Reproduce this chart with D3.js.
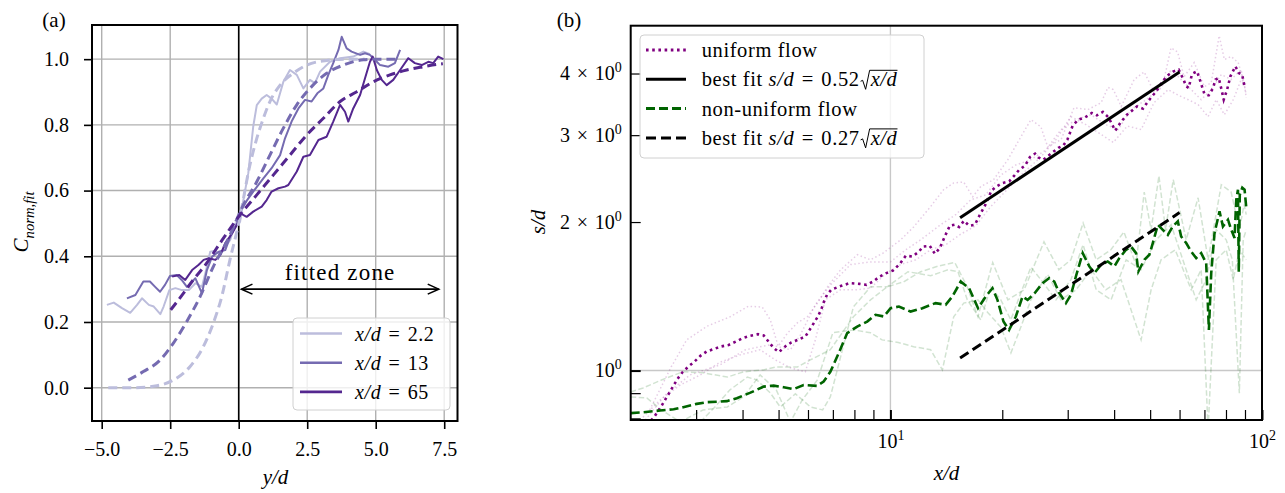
<!DOCTYPE html>
<html>
<head>
<meta charset="utf-8">
<title>spreading of the plume</title>
<script src="https://cdn.jsdelivr.net/npm/d3@7"></script>
<style>
  body { margin: 0; background: #fff; }
  text { font-family: "Liberation Serif", "Times New Roman", serif; fill: #000; }
</style>
</head>
<body>
<svg id="fig" width="1285" height="493"></svg>
<script>
// ---------- panel (a): C_norm,fit against y/d ----------
var prof22 = [[-4.81,0.252],[-4.56,0.259],[-4.26,0.242],[-3.96,0.228],[-3.71,0.252],[-3.53,0.272],[-3.28,0.252],[-3.10,0.247],[-2.86,0.224],[-2.74,0.247],[-2.53,0.297],[-2.31,0.303],[-2.07,0.297],[-1.82,0.297],[-1.58,0.318],[-1.34,0.307],[-1.16,0.368],[-1.04,0.414],[-0.85,0.417],[-0.67,0.404],[-0.49,0.429],[-0.31,0.450],[-0.12,0.500],[0.05,0.505],[0.17,0.571],[0.35,0.653],[0.53,0.795],[0.66,0.860],[0.84,0.880],[1.02,0.891],[1.20,0.880],[1.39,0.862],[1.63,0.931],[1.87,0.967],[2.12,0.952],[2.36,0.911],[2.60,0.937],[2.78,0.927],[2.97,0.962],[3.33,0.992],[3.70,1.003],[4.18,1.008],[4.55,1.023],[4.79,1.015]];
var prof13 = [[-4.08,0.272],[-3.77,0.282],[-3.48,0.323],[-3.24,0.323],[-3.05,0.307],[-2.87,0.292],[-2.69,0.313],[-2.51,0.340],[-2.26,0.343],[-2.08,0.328],[-1.89,0.307],[-1.58,0.333],[-1.34,0.287],[-1.16,0.358],[-0.97,0.399],[-0.73,0.414],[-0.49,0.419],[-0.31,0.460],[-0.06,0.500],[0.05,0.536],[0.30,0.570],[0.53,0.597],[0.90,0.637],[1.20,0.668],[1.51,0.708],[1.69,0.759],[1.93,0.810],[2.18,0.850],[2.42,0.876],[2.66,0.871],[2.87,0.896],[3.09,0.911],[3.27,0.952],[3.45,0.988],[3.64,1.028],[3.76,1.068],[3.94,1.033],[4.12,1.023],[4.43,1.013],[4.61,1.018],[4.79,1.013],[4.97,0.998],[5.16,0.982],[5.46,0.977],[5.70,0.988],[5.89,1.028]];
var prof65 = [[-2.43,0.338],[-2.17,0.343],[-1.95,0.328],[-1.70,0.358],[-1.46,0.374],[-1.28,0.389],[-1.09,0.394],[-0.85,0.389],[-0.67,0.404],[-0.49,0.440],[-0.24,0.470],[0.0,0.505],[0.05,0.531],[0.29,0.520],[0.53,0.536],[0.84,0.551],[1.02,0.571],[1.20,0.597],[1.45,0.607],[1.69,0.612],[1.81,0.617],[2.12,0.658],[2.36,0.703],[2.60,0.708],[2.91,0.754],[3.21,0.764],[3.45,0.810],[3.70,0.861],[3.88,0.840],[4.00,0.810],[4.18,0.850],[4.43,0.891],[4.61,0.942],[4.79,0.992],[4.89,1.008],[5.04,0.967],[5.22,0.937],[5.40,0.921],[5.64,0.937],[5.89,0.967],[6.19,1.003],[6.43,0.988],[6.68,0.982],[6.92,0.992],[7.10,0.988],[7.28,1.008],[7.47,1.000]];
var fit22 = [[-4.76,0.0],[-3.85,0.0],[-2.99,0.006],[-2.39,0.023],[-1.78,0.064],[-1.29,0.125],[-0.93,0.196],[-0.62,0.277],[-0.32,0.389],[0.0,0.5],[0.41,0.678],[0.66,0.759],[0.90,0.820],[1.14,0.871],[1.51,0.921],[1.99,0.957],[2.48,0.982],[3.21,0.996],[3.94,1.0],[4.60,1.0]];
var fit13 = [[-4.03,0.023],[-3.48,0.049],[-2.87,0.084],[-2.39,0.135],[-1.90,0.201],[-1.41,0.277],[-0.93,0.368],[-0.40,0.450],[0.17,0.556],[0.66,0.627],[1.14,0.708],[1.63,0.790],[2.12,0.861],[2.60,0.911],[3.21,0.957],[3.82,0.982],[4.55,0.998],[5.16,1.0],[5.89,1.0]];
var fit65 = [[-2.48,0.237],[-2.02,0.287],[-1.66,0.328],[-1.17,0.379],[-0.68,0.440],[0.05,0.526],[0.66,0.587],[1.26,0.647],[1.87,0.708],[2.48,0.769],[3.09,0.820],[3.70,0.871],[4.31,0.901],[4.91,0.931],[5.52,0.952],[6.13,0.967],[6.74,0.977],[7.23,0.984],[7.45,0.986]];
var profNames = ["2.2", "13", "65"];
var profColors = ["#bcbddc", "#756bb1", "#54278f"];
var xaTicks = [-5, -2.5, 0, 2.5, 5, 7.5];
var yaTicks = [0, 0.2, 0.4, 0.6, 0.8, 1.0];
var zoneFrom = 0.1, zoneTo = 7.3, zoneLevel = 0.3;

// ---------- panel (b): s/d against x/d ----------
var uniMean = [[2.15,0.76],[2.31,0.804],[2.43,0.852],[2.49,0.879],[2.56,0.910],[2.62,0.938],[2.69,0.968],[2.76,0.993],[2.86,1.019],[2.97,1.043],[3.08,1.071],[3.20,1.093],[3.34,1.105],[3.50,1.119],[3.67,1.127],[3.84,1.145],[4.00,1.163],[4.19,1.176],[4.40,1.185],[4.56,1.178],[4.71,1.142],[4.86,1.110],[5.01,1.090],[5.21,1.119],[5.41,1.140],[5.63,1.154],[5.90,1.172],[6.06,1.209],[6.22,1.248],[6.38,1.287],[6.52,1.332],[6.61,1.374],[6.75,1.424],[6.93,1.458],[7.30,1.481],[7.77,1.504],[8.26,1.499],[8.62,1.492],[8.98,1.515],[9.36,1.551],[9.75,1.576],[10.16,1.595],[10.59,1.644],[11.0,1.709],[11.46,1.703],[11.94,1.743],[12.24,1.784],[12.76,1.790],[13.17,1.725],[13.58,1.771],[14.01,1.870],[14.45,1.966],[14.91,1.975],[15.31,1.954],[15.77,2.012],[16.29,1.966],[16.88,1.975],[17.41,2.069],[17.96,2.158],[18.33,2.237],[18.72,2.318],[19.31,2.362],[20.05,2.400],[20.88,2.418],[21.54,2.483],[22.22,2.553],[23.02,2.601],[23.75,2.709],[24.50,2.752],[25.0,2.704],[25.79,2.675],[27.18,2.761],[28.31,2.826],[29.21,2.860],[29.94,2.938],[30.96,3.140],[32.05,3.225],[33.42,3.260],[34.84,3.328],[35.94,3.290],[37.30,3.343],[38.62,3.260],[40.27,3.063],[41.72,3.190],[43.30,3.301],[44.66,3.363],[46.07,3.431],[47.82,3.394],[49.21,3.502],[50.57,3.595],[51.94,3.680],[54.14,3.869],[56.07,3.979],[57.83,4.041],[59.66,4.073],[61.31,3.906],[62.58,3.768],[63.48,3.740],[64.83,3.993],[66.87,4.041],[68.26,3.857],[69.98,3.636],[71.88,3.613],[73.87,3.740],[74.93,3.888],[76.48,3.918],[77.62,3.740],[78.89,3.541],[80.56,3.710],[82.22,3.948],[84.81,4.137],[86.57,4.011],[88.43,3.979],[89.86,3.740]];
var uniRun1 = [[2.25,0.832],[2.57,1.017],[2.83,1.154],[3.21,1.23],[3.70,1.285],[4.15,1.35],[4.52,1.345],[4.75,1.267],[4.99,1.12],[5.28,1.19],[5.62,1.25],[5.97,1.285],[6.36,1.37],[6.78,1.48],[7.34,1.60],[8.15,1.717],[8.84,1.677],[9.55,1.73],[10.65,1.84],[11.55,1.955],[12.83,2.15],[13.9,2.326],[14.8,2.40],[15.75,2.41],[16.65,2.25],[17.5,2.36],[18.95,2.437],[20.7,2.675],[22.0,2.9],[23.88,3.225],[25.4,3.12],[26.5,2.84],[28.8,2.94],[31.2,3.41],[34.0,3.38],[36.9,3.49],[38.5,3.75],[39.8,3.71],[41.8,3.43],[45.3,3.89],[48.2,4.03],[51.3,3.66],[54.5,3.89],[56.9,4.51],[59.3,4.42],[61.7,3.94],[65.7,4.21],[70.0,3.76],[73.0,3.83],[76.7,4.77],[79.2,4.27],[82.6,4.33],[86.3,4.21],[89.5,3.83],[90.7,3.57]];
var uniRun2 = [[2.12,0.794],[2.40,0.872],[2.72,0.935],[3.08,0.98],[3.48,1.04],[3.94,1.076],[4.46,1.102],[4.90,1.051],[5.38,1.013],[5.90,0.994],[6.28,1.154],[6.68,1.391],[7.34,1.458],[8.1,1.458],[8.84,1.47],[9.7,1.57],[10.65,1.64],[11.7,1.677],[12.83,1.757],[14.1,1.80],[15.46,1.89],[16.97,1.965],[18.62,2.15],[20.6,2.326],[22.44,2.49],[25.4,2.71],[27.9,2.94],[30.6,3.27],[33.6,3.15],[36.9,3.01],[39.8,2.9],[43.4,3.13],[47.3,3.08],[51.2,3.49],[55.9,3.71],[59.3,3.62],[63.3,3.54],[67.3,3.46],[71.6,3.27],[75.3,3.54],[79.2,3.30],[83.7,3.54],[87.9,3.89],[90.7,3.80]];
var uniRun3 = [[2.19,0.794],[2.48,0.893],[2.89,0.98],[3.48,1.027],[4.07,1.102],[4.75,1.128],[5.38,1.102],[5.72,1.18],[6.28,1.36],[6.89,1.49],[7.81,1.64],[8.84,1.66],[10.0,1.66],[11.0,1.757],[12.06,1.841],[13.65,1.975],[14.99,2.07],[16.45,2.219],[18.05,2.27],[19.82,2.49],[21.75,2.61],[23.88,2.675],[26.2,2.80],[28.77,3.078],[31.6,3.225],[34.66,3.30],[38.0,3.15],[41.0,3.078],[44.43,3.379],[48.8,3.54],[53.5,3.74],[56.95,4.073],[60.6,3.888],[64.5,3.71],[68.6,3.54],[73.0,3.71],[77.7,3.98],[82.6,3.89],[87.9,4.07],[90.7,3.62]];
var nonMean = [[2.0,0.820],[2.16,0.823],[2.40,0.830],[2.61,0.835],[2.77,0.843],[3.01,0.856],[3.21,0.863],[3.45,0.865],[3.63,0.867],[3.86,0.879],[4.20,0.902],[4.56,0.928],[4.85,0.932],[5.16,0.925],[5.49,0.917],[5.84,0.935],[6.35,0.931],[6.61,0.950],[6.89,0.994],[7.26,1.085],[7.65,1.191],[8.14,1.228],[8.66,1.257],[9.12,1.297],[9.60,1.287],[10.01,1.338],[10.54,1.348],[11.33,1.317],[12.19,1.338],[13.23,1.370],[14.08,1.359],[14.68,1.413],[15.46,1.515],[16.28,1.469],[17.21,1.338],[18.05,1.413],[18.82,1.469],[19.41,1.391],[20.15,1.257],[20.86,1.209],[21.75,1.287],[22.68,1.413],[23.40,1.391],[24.37,1.431],[25.67,1.504],[26.76,1.540],[27.60,1.515],[28.47,1.436],[29.67,1.370],[30.61,1.424],[31.56,1.551],[32.92,1.730],[34.30,1.626],[35.38,1.576],[36.88,1.638],[38.44,1.664],[40.06,1.626],[41.30,1.690],[43.06,1.757],[44.42,1.784],[45.82,1.730],[46.48,1.588],[48.24,1.677],[49.76,1.717],[50.83,1.813],[52.44,1.975],[54.08,1.929],[55.80,1.884],[57.54,1.960],[59.36,2.006],[60.59,1.870],[62.52,1.813],[64.49,1.743],[66.50,1.690],[68.60,1.730],[70.76,1.652],[71.96,1.209],[73.00,1.576],[74.50,1.899],[76.86,2.102],[78.50,1.960],[80.98,2.022],[82.66,1.929],[84.36,1.856],[85.26,2.219],[86.16,2.326],[86.60,1.586],[87.14,2.272],[88.50,2.348],[89.76,2.326],[90.72,2.138]];
var nonRun1 = [[2.0,0.905],[2.16,0.922],[2.42,0.957],[2.76,0.994],[3.13,0.99],[3.64,0.97],[4.02,0.994],[4.55,1.003],[4.93,1.017],[5.62,1.017],[6.09,1.051],[6.89,1.102],[7.95,1.285],[8.84,1.391],[9.8,1.478],[10.85,1.513],[12.06,1.586],[13.5,1.63],[14.9,1.656],[16.1,1.478],[17.2,1.285],[18.85,1.656],[20.7,1.391],[22.9,1.458],[25.9,1.824],[28.4,1.601],[30.6,1.677],[33.0,1.99],[35.8,1.677],[39.2,1.757],[42.5,1.91],[45.8,1.64],[48.2,2.30],[50.3,1.929],[52.8,2.48],[55.0,1.929],[57.7,2.437],[62.5,1.841],[67.3,2.24],[71.6,1.677],[77.7,2.38],[82.6,2.30],[86.9,1.929],[89.5,2.17],[90.7,2.07]];
var nonRun2 = [[2.0,0.884],[2.21,0.88],[2.42,0.832],[2.72,0.787],[3.13,0.832],[3.64,0.844],[4.02,0.884],[4.46,0.98],[4.93,0.914],[5.38,0.787],[5.79,0.872],[6.36,0.957],[7.0,1.193],[7.95,1.209],[8.84,1.193],[9.5,1.154],[10.5,1.14],[11.55,1.118],[12.83,1.102],[13.8,1.003],[14.8,1.285],[15.75,1.37],[17.2,1.391],[18.3,1.31],[19.82,1.225],[21.1,1.086],[22.44,1.225],[23.88,1.391],[26.5,1.565],[28.77,1.391],[31.6,1.458],[34.66,1.601],[38.0,1.458],[41.75,1.528],[47.27,1.154],[50.3,1.458],[53.5,1.677],[58.4,1.757],[64.5,1.458],[68.6,1.601],[71.6,0.76],[75.3,1.677],[80.1,1.757],[83.7,1.528],[86.9,1.757],[90.7,1.677]];
var nonRun3 = [[3.08,0.787],[3.37,0.844],[3.70,0.914],[4.12,0.97],[4.37,0.957],[4.75,0.901],[5.05,0.844],[5.55,0.897],[6.09,0.844],[6.57,0.832],[6.89,0.884],[7.95,1.346],[8.84,1.478],[9.8,1.478],[11.15,1.586],[12.83,1.557],[14.3,1.601],[15.2,1.586],[16.1,1.391],[17.5,1.267],[18.62,1.478],[19.82,1.391],[21.09,1.267],[22.44,1.437],[23.88,1.62],[25.41,1.528],[27.9,1.391],[30.6,1.528],[33.0,1.80],[35.8,1.458],[39.24,1.391],[43.1,1.677],[47.27,1.601],[51.9,1.841],[56.95,1.975],[62.5,1.601],[66.5,1.391],[70.8,1.528],[75.3,1.929],[80.1,1.841],[83.2,1.677],[86.9,0.90],[89.0,1.841],[90.7,1.929]];
var fitUni = [[15.4, 2.04], [60, 4.03]];
var fitNon = [[15.4, 1.06], [60, 2.09]];
var xbTicks = [3, 4, 5, 6, 7, 8, 9, 10, 20, 30, 40, 50, 60, 70, 80, 90, 100];
var xbMajor = [10, 100];
var ybTicks = [0.8, 0.9, 1, 2, 3, 4];
var ybMajor = [1];
var ybLabelled = [1, 2, 3, 4];

var fig = d3.select("#fig");
var FONT = "Liberation Serif, Times New Roman, serif";
var SP = "\u2004";  // a third of an em, like the spaces round = and x in TeX math
fig.append("rect").attr("width", 1285).attr("height", 493).attr("fill", "#fff");

// write text made of plain / italic / sub / sup parts
function mtext(sel, parts) {
  var shift = 0;
  parts.forEach(function(p) {
    var st = p[1] || "";
    var ts = sel.append("tspan").text(p[0]);
    if (st.indexOf("it") >= 0) ts.attr("font-style", "italic");
    var want = st.indexOf("sub") >= 0 ? 6 : (st.indexOf("sup") >= 0 ? -8 : 0);
    if (want != shift) { ts.attr("dy", want - shift); shift = want; }
    if (want != 0) ts.attr("font-size", "0.7em");
  });
  return sel;
}

// =============== panel (a) ===============
var A = {left: 92, right: 457.5, top: 25, bottom: 421};
var xa = d3.scaleLinear().domain([-5.354, 7.985]).range([A.left, A.right]);
var ya = d3.scaleLinear().domain([-0.1014, 1.104]).range([A.bottom, A.top]);

fig.append("clipPath").attr("id", "clipA").append("rect")
    .attr("x", A.left).attr("y", A.top).attr("width", A.right - A.left).attr("height", A.bottom - A.top);

var gridA = fig.append("g").attr("stroke", "#b0b0b0").attr("stroke-width", 1.4);
gridA.selectAll(".gx").data(xaTicks).enter().append("line")
    .attr("x1", function(d) { return xa(d); }).attr("x2", function(d) { return xa(d); })
    .attr("y1", A.top).attr("y2", A.bottom);
gridA.selectAll(".gy").data(yaTicks).enter().append("line")
    .attr("y1", function(d) { return ya(d); }).attr("y2", function(d) { return ya(d); })
    .attr("x1", A.left).attr("x2", A.right);

// y/d = 0 line
fig.append("line").attr("x1", xa(0)).attr("x2", xa(0)).attr("y1", A.top).attr("y2", A.bottom)
    .attr("stroke", "#000").attr("stroke-width", 1.6);

var lineA = d3.line().x(function(d) { return xa(d[0]); }).y(function(d) { return ya(d[1]); });
var smoothA = d3.line().curve(d3.curveMonotoneX).x(function(d) { return xa(d[0]); }).y(function(d) { return ya(d[1]); });
var plotA = fig.append("g").attr("clip-path", "url(#clipA)");
[prof22, prof13, prof65].forEach(function(p, i) {
  plotA.append("path").datum(p).attr("d", lineA).attr("fill", "none")
      .attr("stroke", profColors[i]).attr("stroke-width", 2).attr("stroke-linejoin", "round");
});
[fit22, fit13, fit65].forEach(function(p, i) {
  plotA.append("path").datum(p).attr("d", smoothA).attr("fill", "none")
      .attr("stroke", profColors[i]).attr("stroke-width", 3).attr("stroke-dasharray", "9,5");
});

// fitted zone arrow
var zy = ya(zoneLevel), zx1 = xa(zoneFrom), zx2 = xa(zoneTo);
var arr = fig.append("g").attr("stroke", "#000").attr("stroke-width", 1.6).attr("fill", "none");
arr.append("line").attr("x1", zx1).attr("x2", zx2).attr("y1", zy).attr("y2", zy);
arr.append("path").attr("d", "M" + (zx1 + 11) + "," + (zy - 5) + "L" + zx1 + "," + zy + "L" + (zx1 + 11) + "," + (zy + 5));
arr.append("path").attr("d", "M" + (zx2 - 11) + "," + (zy - 5) + "L" + zx2 + "," + zy + "L" + (zx2 - 11) + "," + (zy + 5));
fig.append("text").attr("x", (zx1 + zx2) / 2).attr("y", zy - 9).attr("text-anchor", "middle")
    .attr("font-size", 23).attr("letter-spacing", 1.2).text("fitted zone");

// axes (a)
var gxa = fig.append("g").attr("transform", "translate(0," + A.bottom + ")")
    .call(d3.axisBottom(xa).tickValues(xaTicks).tickFormat(d3.format(".1f")).tickSize(8).tickPadding(13));
var gya = fig.append("g").attr("transform", "translate(" + A.left + ",0)")
    .call(d3.axisLeft(ya).tickValues(yaTicks).tickFormat(d3.format(".1f")).tickSize(8).tickPadding(15));
[gxa, gya].forEach(function(g) {
  g.attr("font-family", FONT).attr("font-size", 20);
  g.select(".domain").remove();
  g.selectAll(".tick line").attr("stroke", "#000").attr("stroke-width", 1.6);
});
fig.append("rect").attr("x", A.left).attr("y", A.top).attr("width", A.right - A.left).attr("height", A.bottom - A.top)
    .attr("fill", "none").attr("stroke", "#000").attr("stroke-width", 2);

// legend (a)
var legA = fig.append("g");
legA.append("rect").attr("x", 293).attr("y", 318).attr("width", 157).attr("height", 92).attr("rx", 4)
    .attr("fill", "#fff").attr("fill-opacity", 0.8).attr("stroke", "#d0d0d0").attr("stroke-width", 1);
profNames.forEach(function(n, i) {
  var ry = 333.5 + i * 29.2;
  legA.append("line").attr("x1", 300).attr("x2", 342).attr("y1", ry).attr("y2", ry)
      .attr("stroke", profColors[i]).attr("stroke-width", 2.6);
  mtext(legA.append("text").attr("x", 355).attr("y", ry + 7).attr("font-size", 20).attr("letter-spacing", 0.6),
      [["x/d", "it"], [SP + "=" + SP + n]]);
});

fig.append("text").attr("x", 54).attr("y", 27).attr("text-anchor", "middle").attr("font-size", 21).text("(a)");
mtext(fig.append("text").attr("transform", "translate(28,222) rotate(-90)").attr("text-anchor", "middle").attr("font-size", 21),
    [["C", "it"], ["norm,fit", "it sub"]]);
mtext(fig.append("text").attr("x", 275.5).attr("y", 484).attr("text-anchor", "middle").attr("font-size", 21),
    [["y/d", "it"]]);

// =============== panel (b) ===============
var B = {left: 630.7, right: 1262, top: 25.7, bottom: 420};
var xb = d3.scaleLog().domain([2, 100]).range([B.left, B.right]);
var yb = d3.scaleLog().domain([0.794, 5.0]).range([B.bottom, B.top]);

fig.append("clipPath").attr("id", "clipB").append("rect")
    .attr("x", B.left).attr("y", B.top).attr("width", B.right - B.left).attr("height", B.bottom - B.top);

var gridB = fig.append("g").attr("stroke", "#c8c8c8").attr("stroke-width", 1.4);
gridB.selectAll(".gx").data(xbMajor.filter(function(v) { return v < 100; })).enter().append("line")
    .attr("x1", function(d) { return xb(d); }).attr("x2", function(d) { return xb(d); })
    .attr("y1", B.top).attr("y2", B.bottom);
gridB.selectAll(".gy").data(ybMajor).enter().append("line")
    .attr("y1", function(d) { return yb(d); }).attr("y2", function(d) { return yb(d); })
    .attr("x1", B.left).attr("x2", B.right);

var lineB = d3.line().x(function(d) { return xb(d[0]); }).y(function(d) { return yb(d[1]); });
var plotB = fig.append("g").attr("clip-path", "url(#clipB)");
[uniRun1, uniRun2, uniRun3].forEach(function(p) {
  plotB.append("path").datum(p).attr("d", lineB).attr("fill", "none")
      .attr("stroke", "#800080").attr("stroke-opacity", 0.2).attr("stroke-width", 1.5).attr("stroke-dasharray", "1.5,2.5");
});
[nonRun1, nonRun2, nonRun3].forEach(function(p) {
  plotB.append("path").datum(p).attr("d", lineB).attr("fill", "none")
      .attr("stroke", "#006400").attr("stroke-opacity", 0.18).attr("stroke-width", 1.5).attr("stroke-dasharray", "5.5,2.5");
});
plotB.append("path").datum(uniMean).attr("d", lineB).attr("fill", "none")
    .attr("stroke", "#800080").attr("stroke-width", 2.6).attr("stroke-dasharray", "2.6,3.6");
plotB.append("path").datum(nonMean).attr("d", lineB).attr("fill", "none")
    .attr("stroke", "#006400").attr("stroke-width", 2.6).attr("stroke-dasharray", "9,4");
plotB.append("path").datum(fitUni).attr("d", lineB).attr("fill", "none")
    .attr("stroke", "#000").attr("stroke-width", 3);
plotB.append("path").datum(fitNon).attr("d", lineB).attr("fill", "none")
    .attr("stroke", "#000").attr("stroke-width", 3).attr("stroke-dasharray", "10,5");

// axes (b): ticks point inwards
var gxb = fig.append("g").attr("transform", "translate(0," + B.bottom + ")")
    .call(d3.axisBottom(xb).tickValues(xbTicks).tickFormat(function() { return ""; }).tickSize(-10).tickPadding(14));
var gyb = fig.append("g").attr("transform", "translate(" + B.left + ",0)")
    .call(d3.axisLeft(yb).tickValues(ybTicks).tickFormat(function() { return ""; }).tickSize(-10).tickPadding(9));
[gxb, gyb].forEach(function(g) {
  g.attr("font-family", FONT).attr("font-size", 20);
  g.select(".domain").remove();
  g.selectAll(".tick line").attr("stroke", "#000").attr("stroke-width", 1.2);
});
gxb.selectAll(".tick").filter(function(d) { return xbMajor.indexOf(d) >= 0; })
    .select("line").attr("stroke-width", 2);
gyb.selectAll(".tick").filter(function(d) { return ybMajor.indexOf(d) >= 0; })
    .select("line").attr("stroke-width", 2);
gxb.selectAll(".tick text").each(function(d) {
  if (xbMajor.indexOf(d) < 0) return;
  mtext(d3.select(this), [["10"], [String(Math.round(Math.log10(d))), "sup"]]);
});
gyb.selectAll(".tick text").each(function(d) {
  if (ybLabelled.indexOf(d) < 0) return;
  var parts = d === 1 ? [["10"], ["0", "sup"]] : [[d + SP + "×" + SP + "10"], ["0", "sup"]];
  mtext(d3.select(this), parts);
});
fig.append("rect").attr("x", B.left).attr("y", B.top).attr("width", B.right - B.left).attr("height", B.bottom - B.top)
    .attr("fill", "none").attr("stroke", "#000").attr("stroke-width", 2);

// legend (b)
var legB = fig.append("g");
legB.append("rect").attr("x", 640).attr("y", 35).attr("width", 284).attr("height", 123).attr("rx", 4)
    .attr("fill", "#fff").attr("fill-opacity", 0.8).attr("stroke", "#d0d0d0").attr("stroke-width", 1);
var legRows = [
  {stroke: "#800080", dash: "2.6,3.6", parts: [["uniform flow"]]},
  {stroke: "#000", dash: null, parts: [["best fit "], ["s/d", "it"], [SP + "=" + SP + "0.52"]], root: true},
  {stroke: "#006400", dash: "9,4", parts: [["non-uniform flow"]]},
  {stroke: "#000", dash: "10,5", parts: [["best fit "], ["s/d", "it"], [SP + "=" + SP + "0.27"]], root: true}
];
legRows.forEach(function(r, i) {
  var ry = 50 + i * 29.3;
  legB.append("line").attr("x1", 646).attr("x2", 686).attr("y1", ry).attr("y2", ry)
      .attr("stroke", r.stroke).attr("stroke-width", 3).attr("stroke-dasharray", r.dash);
  var t = mtext(legB.append("text").attr("x", 701.7).attr("y", ry + 7).attr("font-size", 20.5).attr("letter-spacing", 0.6), r.parts);
  if (r.root) {
    var x0 = 701.7 + t.node().getComputedTextLength() + 1, base = ry + 7;
    var rt = mtext(legB.append("text").attr("x", x0 + 10).attr("y", base).attr("font-size", 20.5).attr("letter-spacing", 0.6), [["x/d", "it"]]);
    var x1 = x0 + 10 + rt.node().getComputedTextLength();
    legB.append("path")
        .attr("d", "M" + x0 + "," + (base - 5) + "L" + (x0 + 2) + "," + (base - 6) + "L" + (x0 + 5) + "," + (base + 3) +
                   "L" + (x0 + 9) + "," + (base - 16) + "L" + x1 + "," + (base - 16))
        .attr("fill", "none").attr("stroke", "#000").attr("stroke-width", 1);
  }
});

fig.append("text").attr("x", 569).attr("y", 27).attr("text-anchor", "middle").attr("font-size", 21).text("(b)");
mtext(fig.append("text").attr("transform", "translate(545,222) rotate(-90)").attr("text-anchor", "middle").attr("font-size", 21),
    [["s/d", "it"]]);
mtext(fig.append("text").attr("x", 946.5).attr("y", 480).attr("text-anchor", "middle").attr("font-size", 21),
    [["x/d", "it"]]);
</script>
</body>
</html>
